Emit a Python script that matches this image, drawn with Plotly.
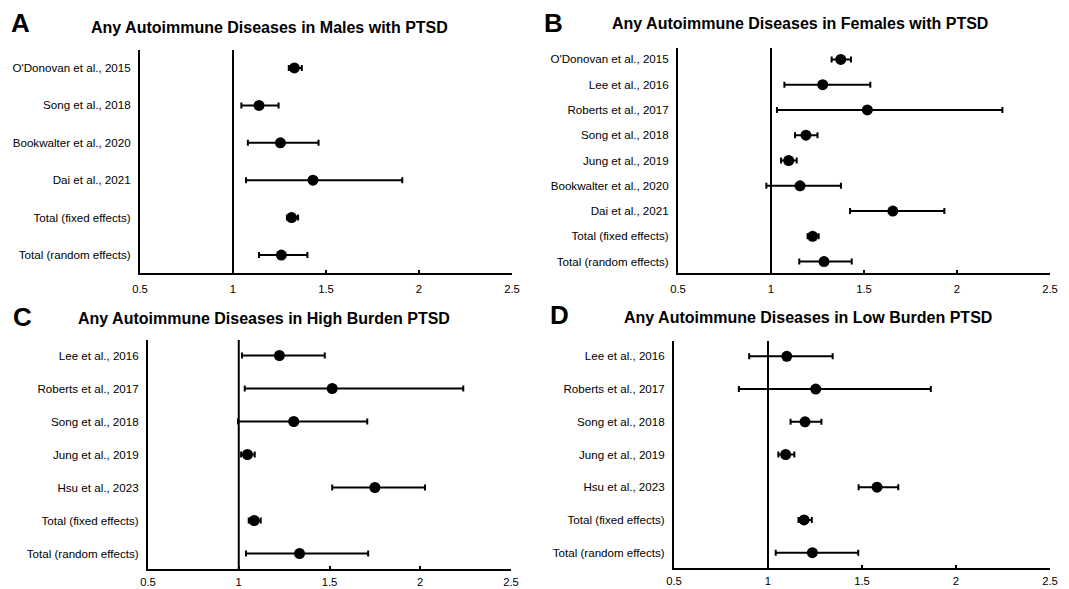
import plotly.graph_objects as go

# Panel A: Males
a_labels = ["O'Donovan et al., 2015", "Song et al., 2018", "Bookwalter et al., 2020",
            "Dai et al., 2021", "Total (fixed effects)", "Total (random effects)"]
a_est = [1.33, 1.14, 1.255, 1.43, 1.315, 1.26]
a_lo = [1.30, 1.045, 1.08, 1.07, 1.29, 1.14]
a_hi = [1.37, 1.245, 1.46, 1.91, 1.35, 1.40]

# Panel B: Females
b_labels = ["O'Donovan et al., 2015", "Lee et al., 2016", "Roberts et al., 2017",
            "Song et al., 2018", "Jung et al., 2019", "Bookwalter et al., 2020",
            "Dai et al., 2021", "Total (fixed effects)", "Total (random effects)"]
b_est = [1.375, 1.278, 1.518, 1.188, 1.095, 1.156, 1.655, 1.224, 1.285]
b_lo = [1.326, 1.072, 1.032, 1.129, 1.054, 0.975, 1.425, 1.197, 1.152]
b_hi = [1.43, 1.534, 2.244, 1.25, 1.138, 1.376, 1.932, 1.256, 1.434]

# Panel C: High burden
c_labels = ["Lee et al., 2016", "Roberts et al., 2017", "Song et al., 2018",
            "Jung et al., 2019", "Hsu et al., 2023", "Total (fixed effects)",
            "Total (random effects)"]
c_est = [1.224, 1.515, 1.303, 1.048, 1.75, 1.085, 1.335]
c_lo = [1.018, 1.033, 0.996, 1.013, 1.515, 1.055, 1.04]
c_hi = [1.474, 2.237, 1.708, 1.088, 2.026, 1.121, 1.713]

# Panel D: Low burden
d_labels = ["Lee et al., 2016", "Roberts et al., 2017", "Song et al., 2018",
            "Jung et al., 2019", "Hsu et al., 2023", "Total (fixed effects)",
            "Total (random effects)"]
d_est = [1.10, 1.254, 1.197, 1.094, 1.58, 1.192, 1.236]
d_lo = [0.90, 0.845, 1.12, 1.055, 1.482, 1.162, 1.041]
d_hi = [1.344, 1.866, 1.284, 1.14, 1.693, 1.233, 1.48]

titles = ["Any Autoimmune Diseases in Males with PTSD",
          "Any Autoimmune Diseases in Females with PTSD",
          "Any Autoimmune Diseases in High Burden PTSD",
          "Any Autoimmune Diseases in Low Burden PTSD"]
letters = ["A", "B", "C", "D"]
x_ticks = [0.5, 1, 1.5, 2, 2.5]
x_ticktext = ["0.5", "1", "1.5", "2", "2.5"]

panels = [
    (a_labels, a_est, a_lo, a_hi),
    (b_labels, b_est, b_lo, b_hi),
    (c_labels, c_est, c_lo, c_hi),
    (d_labels, d_est, d_lo, d_hi),
]

OFF = 8  # default page body margin
W, H = 1069 - OFF, 589 - OFF
# target pixel boxes in the window: (left, right, top, bottom)
boxes = [(140, 512, 50, 273), (678, 1050, 48, 273), (148, 511, 340, 569), (674, 1050, 341, 568)]
title_pos = [(269, 27), (800, 23), (264, 318), (808, 317)]
letter_pos = [(20, 23), (553, 23), (22, 317), (559, 315)]
yrange_pad = [0.48, 0.45, 0.47, 0.47]
x_standoff = [4, 4, 1, 1]

fig = go.Figure()
FONT = "Liberation Sans, Arial, sans-serif"


def px(x):
    return (x - OFF) / W


def py(y):
    return 1 - (y - OFF) / H


for i, (labels, est, lo, hi) in enumerate(panels):
    n = len(labels)
    suffix = "" if i == 0 else str(i + 1)
    xa = "x" + suffix
    ya = "y" + suffix
    plus = [h - e for h, e in zip(hi, est)]
    minus = [e - l for e, l in zip(est, lo)]
    fig.add_trace(go.Scatter(
        x=est, y=list(range(n)), mode="markers",
        marker=dict(color="black", size=11),
        error_x=dict(type="data", array=plus, arrayminus=minus, color="black",
                     thickness=2, width=3),
        xaxis=xa, yaxis=ya, showlegend=False, cliponaxis=False,
    ))
    l, r, t, b = boxes[i]
    pad = yrange_pad[i]
    fig.layout["xaxis" + suffix] = dict(
        domain=[px(l), px(r)], anchor=ya, range=[0.5, 2.5],
        tickvals=x_ticks, ticktext=x_ticktext, showline=True, linewidth=2,
        linecolor="black", ticks="inside", ticklen=3, tickwidth=1.5,
        tickcolor="black", showgrid=False, zeroline=False, automargin=False,
        ticklabelstandoff=x_standoff[i],
        tickfont=dict(family=FONT, size=11.3, color="black"),
    )
    fig.layout["yaxis" + suffix] = dict(
        domain=[py(b), py(t)], anchor=xa,
        range=[n - 1 + pad, -pad], tickvals=list(range(n)), ticktext=labels,
        showline=True, linewidth=2, linecolor="black", ticks="",
        showgrid=False, zeroline=False, ticklabelstandoff=5, automargin=False,
        tickfont=dict(family=FONT, size=11.6, color="black"),
    )
    fig.add_shape(type="line", xref=xa, yref=ya + " domain", x0=1, x1=1, y0=0, y1=1,
                  line=dict(color="black", width=2), layer="below")
    tx, ty = title_pos[i]
    fig.add_annotation(text="<b>" + titles[i] + "</b>", xref="paper", yref="paper",
                       x=px(tx), y=py(ty), showarrow=False, xanchor="center",
                       yanchor="middle", font=dict(family=FONT, size=16, color="black"))
    lx, ly = letter_pos[i]
    fig.add_annotation(text="<b>" + letters[i] + "</b>", xref="paper", yref="paper",
                       x=px(lx), y=py(ly), showarrow=False, xanchor="center",
                       yanchor="middle", font=dict(family=FONT, size=26, color="black"))

fig.update_layout(template="none", width=W, height=H, margin=dict(l=0, r=0, t=0, b=0),
                  plot_bgcolor="white", paper_bgcolor="white")
fig.write_html("out.html")
